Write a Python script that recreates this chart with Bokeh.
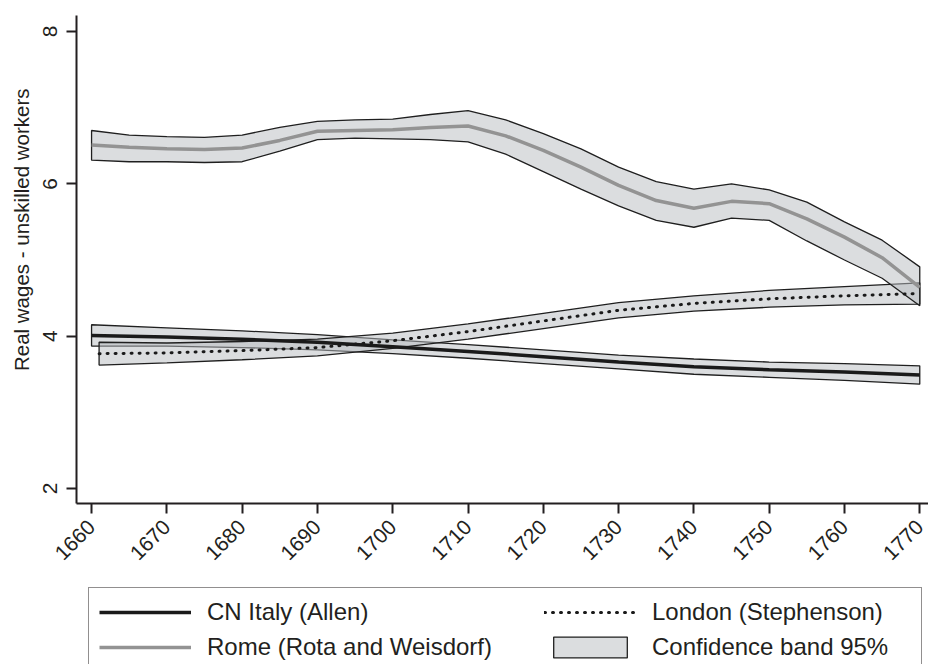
import math

from bokeh.plotting import figure
from bokeh.layouts import column
from bokeh.models import Range1d, FixedTicker, Legend, LegendItem, Title
from bokeh.embed import file_html
from bokeh.resources import INLINE

# ---- data -------------------------------------------------------------
year_ticks = [1660, 1670, 1680, 1690, 1700, 1710, 1720, 1730, 1740, 1750, 1760, 1770]
wage_ticks = [2, 4, 6, 8]

# CN Italy (Allen): smoothed real wage with 95% band
cn_years = [1660, 1670, 1680, 1690, 1700, 1710, 1720, 1730, 1740, 1750, 1760, 1770]
cn_mean = [4.01, 3.99, 3.96, 3.92, 3.86, 3.80, 3.73, 3.66, 3.60, 3.56, 3.53, 3.49]
cn_upper = [4.15, 4.11, 4.07, 4.02, 3.95, 3.89, 3.82, 3.75, 3.70, 3.66, 3.64, 3.61]
cn_lower = [3.87, 3.87, 3.85, 3.82, 3.77, 3.71, 3.64, 3.57, 3.50, 3.46, 3.42, 3.37]

# London (Stephenson)
ldn_years = [1661, 1670, 1680, 1690, 1700, 1710, 1720, 1730, 1740, 1750, 1760, 1770]
ldn_mean = [3.77, 3.78, 3.81, 3.85, 3.94, 4.06, 4.20, 4.34, 4.43, 4.49, 4.53, 4.56]
ldn_upper = [3.92, 3.91, 3.93, 3.96, 4.04, 4.16, 4.30, 4.44, 4.53, 4.60, 4.65, 4.70]
ldn_lower = [3.62, 3.65, 3.69, 3.74, 3.84, 3.96, 4.10, 4.24, 4.33, 4.38, 4.41, 4.42]

# Rome (Rota and Weisdorf)
rome_years = [1660, 1665, 1670, 1675, 1680, 1685, 1690, 1695, 1700, 1705, 1710, 1715,
              1720, 1725, 1730, 1735, 1740, 1745, 1750, 1755, 1760, 1765, 1770]
rome_mean = [6.51, 6.48, 6.46, 6.45, 6.47, 6.57, 6.69, 6.70, 6.71, 6.74, 6.76, 6.63,
             6.44, 6.22, 5.98, 5.78, 5.68, 5.77, 5.74, 5.54, 5.30, 5.03, 4.64]
rome_upper = [6.70, 6.64, 6.62, 6.61, 6.64, 6.74, 6.82, 6.84, 6.85, 6.91, 6.96, 6.84,
              6.66, 6.46, 6.22, 6.03, 5.93, 6.00, 5.92, 5.76, 5.50, 5.26, 4.91]
rome_lower = [6.31, 6.29, 6.29, 6.28, 6.29, 6.43, 6.58, 6.60, 6.59, 6.58, 6.55, 6.39,
              6.16, 5.93, 5.71, 5.52, 5.43, 5.55, 5.52, 5.25, 5.00, 4.76, 4.40]

# ---- styling ----------------------------------------------------------
FONT = "Liberation Sans"
INK = "#231f20"
LINE_DARK = "#1a1a1a"
LINE_GREY = "#939393"
BAND_FILL = "#b8bbbf"
BAND_EDGE = "#1f1f1f"

band_style = dict(fill_color=BAND_FILL, fill_alpha=0.5, line_color=BAND_EDGE, line_width=1.3)
cn_style = dict(line_color=LINE_DARK, line_width=3.5)
ldn_style = dict(line_color=LINE_DARK, line_width=3, line_dash="1 7", line_cap="round")
rome_style = dict(line_color=LINE_GREY, line_width=3.5)


def band_outline(years, upper, lower):
    """Closed polygon running along the upper bound and back along the lower one."""
    return list(years) + list(years)[::-1], list(upper) + list(lower)[::-1]


# ---- main chart -------------------------------------------------------
p = figure(
    width=928, height=580,
    output_backend="svg", toolbar_location=None,
    x_range=Range1d(1658.0, 1771.16), y_range=Range1d(1.803, 8.21),
    min_border_left=76, min_border_right=0, min_border_top=15, min_border_bottom=77,
)
p.outline_line_color = None
p.grid.visible = False
p.background_fill_color = "white"
p.border_fill_color = "white"

for ax in (p.xaxis[0], p.yaxis[0]):
    ax.axis_line_color = INK
    ax.axis_line_width = 2
    ax.major_tick_line_color = INK
    ax.major_tick_line_width = 2
    ax.major_tick_out = 10
    ax.major_tick_in = 0
    ax.minor_tick_line_color = None
    ax.major_label_text_font = FONT
    ax.major_label_text_font_size = "21px"
    ax.major_label_text_color = INK

p.xaxis.ticker = FixedTicker(ticks=year_ticks)
p.xaxis.major_label_orientation = math.pi / 4
p.xaxis.major_label_standoff = 10
p.yaxis.ticker = FixedTicker(ticks=wage_ticks)
p.yaxis.major_label_orientation = "vertical"
p.yaxis.major_label_standoff = 9

ytitle = Title(
    text="Real wages - unskilled workers", align="right", offset=73,
    vertical_align="top",
    text_font=FONT, text_font_size="20.5px", text_font_style="normal", text_color=INK,
)
if "standoff" in Title.properties():
    ytitle.standoff = 12
p.add_layout(ytitle, "left")

for yrs, up, lo in ((cn_years, cn_upper, cn_lower),
                    (ldn_years, ldn_upper, ldn_lower),
                    (rome_years, rome_upper, rome_lower)):
    bx, by = band_outline(yrs, up, lo)
    p.patch(bx, by, **band_style)

p.line(cn_years, cn_mean, **cn_style)
p.line(ldn_years, ldn_mean, **ldn_style)
p.line(rome_years, rome_mean, **rome_style)

# ---- legend strip -----------------------------------------------------
# The key renderers reuse the series but sit outside this strip's ranges,
# so only their legend samples are visible.
lg = figure(
    width=928, height=84,
    output_backend="svg", toolbar_location=None,
    x_range=Range1d(0, 1), y_range=Range1d(0, 1),
    x_axis_type=None, y_axis_type=None,
    min_border_left=76, min_border_right=0, min_border_top=0, min_border_bottom=0,
)
lg.outline_line_color = None
lg.grid.visible = False

k_cn = lg.line(cn_years, cn_mean, **cn_style)
k_rome = lg.line(rome_years, rome_mean, **rome_style)
k_ldn = lg.line(ldn_years, ldn_mean, **ldn_style)
kbx, kby = band_outline(cn_years, cn_upper, cn_lower)
k_band = lg.patch(kbx, kby, **band_style)

common = dict(
    glyph_width=92, glyph_height=26, label_height=26, label_standoff=16,
    spacing=7, padding=10, margin=0,
    label_text_font=FONT, label_text_font_size="24px", label_text_color=INK,
    orientation="vertical",
)
leg_a = Legend(
    items=[LegendItem(label="CN Italy (Allen)", renderers=[k_cn]),
           LegendItem(label="Rome (Rota and Weisdorf)", renderers=[k_rome])],
    location=(12, -8), label_width=704,
    border_line_color=INK, border_line_width=1.5,
    background_fill_color="white", background_fill_alpha=1.0,
    **common,
)
leg_b = Legend(
    items=[LegendItem(label="London (Stephenson)", renderers=[k_ldn]),
           LegendItem(label="Confidence band 95%", renderers=[k_band])],
    location=(468, 3),
    border_line_color=None, background_fill_alpha=0.0,
    **common,
)
lg.add_layout(leg_a, "center")
lg.add_layout(leg_b, "center")

page = column(p, lg, spacing=0)
open("out.html", "w").write(file_html(page, INLINE))
